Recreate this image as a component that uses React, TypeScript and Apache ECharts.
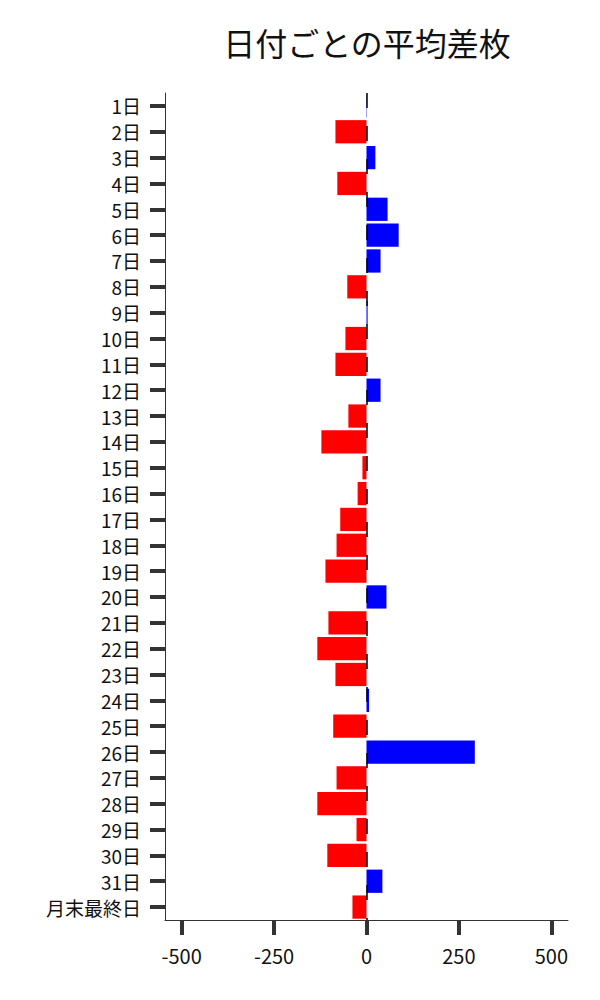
import { useEffect, useRef } from 'react';
import * as echarts from 'echarts';

const days: string[] = [
  '1日', '2日', '3日', '4日', '5日', '6日', '7日', '8日', '9日', '10日',
  '11日', '12日', '13日', '14日', '15日', '16日', '17日', '18日', '19日', '20日',
  '21日', '22日', '23日', '24日', '25日', '26日', '27日', '28日', '29日', '30日',
  '31日', '月末最終日',
];

const avgDiff: number[] = [
  1, -84, 24, -79, 57, 87, 38, -52, 3, -57,
  -84, 38, -49, -122, -11, -24, -71, -81, -111, 54,
  -103, -133, -84, 7, -90, 293, -81, -133, -27, -106,
  43, -38,
];

const xTicks: number[] = [-500, -250, 0, 250, 500];

const FONT = '"Noto Sans CJK JP", "Noto Sans", sans-serif';

function App() {
  const chartRef = useRef<HTMLDivElement>(null);

  useEffect(() => {
    document.body.style.margin = '0';
    if (!chartRef.current) return;
    const chart = echarts.init(chartRef.current, null, { renderer: 'svg' });

    const option: echarts.EChartsOption = {
      animation: false,
      title: {
        text: '日付ごとの平均差枚',
        left: 362,
        top: 21,
        textAlign: 'center',
        textStyle: { fontFamily: FONT, fontSize: 32, fontWeight: 'normal', color: '#111' },
      },
      grid: { left: 165, right: 32, top: 93, bottom: 80 },
      xAxis: {
        type: 'value',
        min: -545,
        max: 545,
        interval: 250,
        splitLine: { show: false },
        axisLine: { show: true, onZero: false, lineStyle: { color: '#333', width: 1 } },
        axisTick: {
          show: true,
          length: 15,
          lineStyle: { color: '#333', width: 4 },
          customValues: xTicks,
        },
        axisLabel: {
          fontFamily: FONT,
          fontSize: 20,
          color: '#111',
          margin: 25,
          customValues: xTicks,
          formatter: (v: number) => String(v),
        },
      },
      yAxis: {
        type: 'category',
        data: days,
        inverse: true,
        axisLine: { show: true, onZero: false, lineStyle: { color: '#333', width: 1 } },
        axisTick: {
          show: true,
          interval: 0,
          alignWithLabel: true,
          length: 15,
          lineStyle: { color: '#333', width: 4 },
        },
        axisLabel: {
          interval: 0,
          fontFamily: FONT,
          fontSize: 19,
          color: '#111',
          margin: 24,
        },
      },
      series: [
        {
          type: 'bar',
          data: avgDiff.map((v) => ({
            value: v,
            itemStyle: { color: v < 0 ? '#ff0000' : '#0000ff' },
          })),
          barCategoryGap: '10%',
          markLine: {
            silent: true,
            symbol: 'none',
            label: { show: false },
            lineStyle: { color: '#000', width: 1.5, type: [15, 18] },
            data: [{ xAxis: 0 }],
          },
        },
      ],
    };

    chart.setOption(option);
    return () => {
      chart.dispose();
    };
  }, []);

  return <div ref={chartRef} style={{ width: '600px', height: '1000px' }} />;
}

export default App;
